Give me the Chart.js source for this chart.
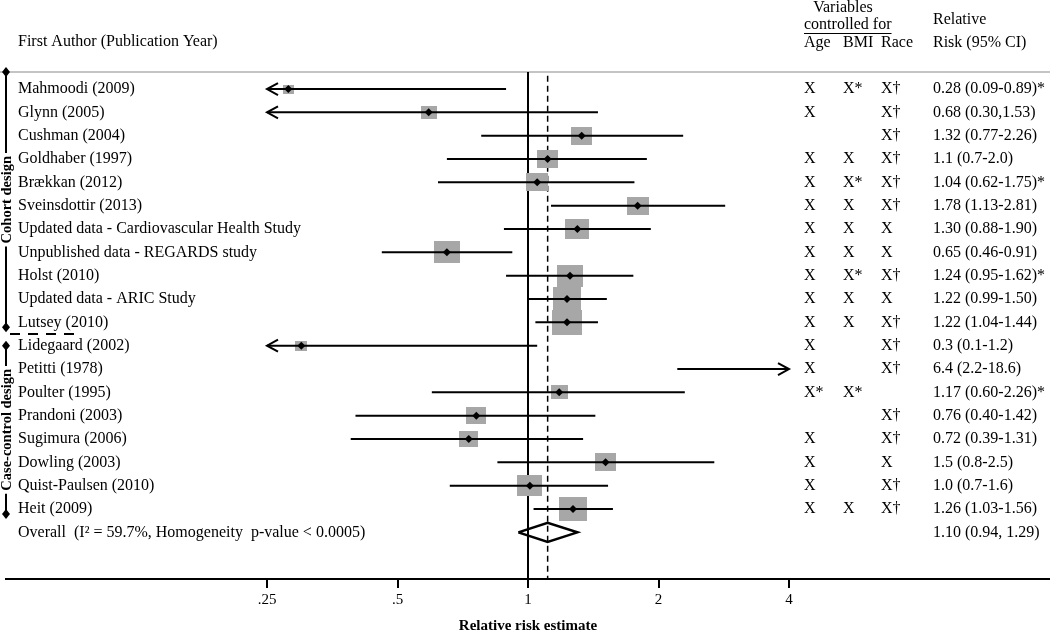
<!DOCTYPE html>
<html>
<head>
<meta charset="utf-8">
<script src="https://cdn.jsdelivr.net/npm/chart.js@4.4.0/dist/chart.umd.min.js"></script>
<style>
html, body { margin: 0; padding: 0; background: #fff; }
</style>
</head>
<body>
<canvas id="forestChart" width="1050" height="630"></canvas>
<script>
// study rows, top to bottom
var studies = ['Mahmoodi (2009)', 'Glynn (2005)', 'Cushman (2004)', 'Goldhaber (1997)', 'Brækkan (2012)',
  'Sveinsdottir (2013)', 'Updated data - Cardiovascular Health Study', 'Unpublished data - REGARDS study',
  'Holst (2010)', 'Updated data - ARIC Study', 'Lutsey (2010)', 'Lidegaard (2002)', 'Petitti (1978)',
  'Poulter (1995)', 'Prandoni (2003)', 'Sugimura (2006)', 'Dowling (2003)', 'Quist-Paulsen (2010)', 'Heit (2009)'];

// values as plotted in the figure
var estimates = [0.28, 0.59, 1.33, 1.11, 1.05, 1.79, 1.30, 0.65, 1.25, 1.23, 1.23, 0.30, 6.4, 1.18, 0.76, 0.73, 1.51, 1.01, 1.27];
var lowerCI   = [0.09, 0.20, 0.78, 0.65, 0.62, 1.13, 0.88, 0.46, 0.89, 1.00, 1.04, 0.10, 2.21, 0.60, 0.40, 0.39, 0.85, 0.66, 1.03];
var upperCI   = [0.89, 1.45, 2.28, 1.88, 1.76, 2.85, 1.92, 0.92, 1.75, 1.52, 1.45, 1.05, 18.6, 2.30, 1.43, 1.34, 2.69, 1.53, 1.57];
var weights   = [1.3, 2.7, 4.6, 4.6, 5.1, 5.1, 6.1, 7.1, 7.1, 8.3, 9.5, 1.5, 0.8, 3.0, 4.2, 3.8, 4.6, 6.6, 8.3];

var ageCol  = ['X', 'X', '', 'X', 'X', 'X', 'X', 'X', 'X', 'X', 'X', 'X', 'X', 'X*', '', 'X', 'X', 'X', 'X'];
var bmiCol  = ['X*', '', '', 'X', 'X*', 'X', 'X', 'X', 'X*', 'X', 'X', '', '', 'X*', '', '', '', '', 'X'];
var raceCol = ['X†', 'X†', 'X†', 'X†', 'X†', 'X†', 'X', 'X', 'X†', 'X', 'X†', 'X†', 'X†', '', 'X†', 'X†', 'X', 'X†', 'X†'];
var rrLabels = ['0.28 (0.09-0.89)*', '0.68 (0.30,1.53)', '1.32 (0.77-2.26)', '1.1 (0.7-2.0)', '1.04 (0.62-1.75)*',
  '1.78 (1.13-2.81)', '1.30 (0.88-1.90)', '0.65 (0.46-0.91)', '1.24 (0.95-1.62)*', '1.22 (0.99-1.50)',
  '1.22 (1.04-1.44)', '0.3 (0.1-1.2)', '6.4 (2.2-18.6)', '1.17 (0.60-2.26)*', '0.76 (0.40-1.42)',
  '0.72 (0.39-1.31)', '1.5 (0.8-2.5)', '1.0 (0.7-1.6)', '1.26 (1.03-1.56)'];

// overall pooled estimate: lower, estimate, upper
var overallCI = [0.95, 1.11, 1.30];
var overallLabel = 'Overall  (I² = 59.7%, Homogeneity  p-value < 0.0005)';
var overallRR = '1.10 (0.94, 1.29)';

var groups = ['Cohort design', 'Case-control design'];
var groupRows = [[0, 10], [11, 18]];

var tickValues = [0.25, 0.5, 1, 2, 4];
var tickLabels = ['.25', '.5', '1', '2', '4'];

var clipLo = 0.25, clipHi = 4;
var overallRow = studies.length;
var serif = '"Liberation Serif", "Times New Roman", serif';

function makeBox(w) {
  var side = 9.75 * Math.sqrt(w);
  var c = document.createElement('canvas');
  c.width = Math.round(side);
  c.height = Math.round(side * 0.84);
  var g = c.getContext('2d');
  g.fillStyle = '#a7a7a7';
  g.fillRect(0, 0, c.width, c.height);
  return c;
}

var boxData = [], boxStyles = [], dotData = [];
for (var i = 0; i < studies.length; i++) {
  if (estimates[i] >= clipLo && estimates[i] <= clipHi) {
    boxData.push({x: estimates[i], y: i});
    boxStyles.push(makeBox(weights[i]));
    dotData.push({x: estimates[i], y: i});
  }
}

var datasets = [];
datasets.push({
  data: [{x: 1, y: -1}, {x: 1, y: 22}],
  showLine: true, borderColor: '#000', borderWidth: 2, pointRadius: 0, order: 6
});
datasets.push({
  data: [{x: overallCI[1], y: -1}, {x: overallCI[1], y: 22}],
  showLine: true, borderColor: '#000', borderWidth: 1.5, borderDash: [6, 4], pointRadius: 0, order: 5
});
datasets.push({
  data: boxData, pointStyle: boxStyles, pointRadius: 10, showLine: false, order: 4
});
for (var j = 0; j < studies.length; j++) {
  datasets.push({
    data: [{x: Math.max(lowerCI[j], clipLo), y: j}, {x: Math.min(upperCI[j], clipHi), y: j}],
    showLine: true, borderColor: '#000', borderWidth: 2, pointRadius: 0, order: 3
  });
}
datasets.push({
  data: dotData, pointStyle: 'rectRot', pointRadius: 4,
  backgroundColor: '#000', borderColor: '#000', borderWidth: 0, showLine: false, order: 1
});
datasets.push({
  data: [
    {x: overallCI[0], y: overallRow}, {x: overallCI[1], y: overallRow - 0.41},
    {x: overallCI[2], y: overallRow}, {x: overallCI[1], y: overallRow + 0.41},
    {x: overallCI[0], y: overallRow}
  ],
  showLine: true, borderColor: '#000', borderWidth: 2.5, borderJoinStyle: 'miter',
  pointRadius: 0, fill: false, order: 1
});

var forestText = {
  id: 'forestText',
  beforeDatasetsDraw: function (chart) {
    var ctx = chart.ctx, area = chart.chartArea;
    ctx.save();
    ctx.strokeStyle = '#c4c4c4';
    ctx.lineWidth = 2;
    ctx.beginPath();
    ctx.moveTo(0, area.top);
    ctx.lineTo(chart.width, area.top);
    ctx.stroke();
    ctx.restore();
  },
  afterDatasetsDraw: function (chart) {
    var ctx = chart.ctx;
    var xs = chart.scales.x, ys = chart.scales.y;
    ctx.save();

    // arrows for intervals running off the plotted range
    ctx.strokeStyle = '#000';
    ctx.lineWidth = 2;
    for (var i = 0; i < studies.length; i++) {
      var y = ys.getPixelForValue(i);
      if (lowerCI[i] < clipLo) {
        var tx = xs.getPixelForValue(clipLo);
        ctx.beginPath();
        ctx.moveTo(tx + 11, y - 6); ctx.lineTo(tx, y); ctx.lineTo(tx + 11, y + 6);
        ctx.stroke();
      }
      if (upperCI[i] > clipHi) {
        var hx = xs.getPixelForValue(clipHi);
        ctx.beginPath();
        ctx.moveTo(hx - 11, y - 6); ctx.lineTo(hx, y); ctx.lineTo(hx - 11, y + 6);
        ctx.stroke();
      }
    }

    // header
    ctx.fillStyle = '#000';
    ctx.textBaseline = 'middle';
    ctx.font = '16px ' + serif;
    ctx.textAlign = 'left';
    ctx.fillText('First Author (Publication Year)', 18, 42);
    ctx.textAlign = 'center';
    ctx.fillText('Variables', 843, 8);
    ctx.textAlign = 'left';
    ctx.fillText('controlled for', 804, 25);
    var cw = ctx.measureText('controlled for').width;
    ctx.lineWidth = 1;
    ctx.beginPath(); ctx.moveTo(804, 33.5); ctx.lineTo(804 + cw, 33.5); ctx.stroke();
    ctx.fillText('Age', 804, 43);
    ctx.fillText('BMI', 843, 43);
    ctx.fillText('Race', 881, 43);
    ctx.fillText('Relative', 933, 20);
    ctx.fillText('Risk (95% CI)', 933, 43);

    // rows
    for (var r = 0; r < studies.length; r++) {
      var ry = ys.getPixelForValue(r);
      ctx.fillText(studies[r], 18, ry);
      ctx.fillText(ageCol[r], 804, ry);
      ctx.fillText(bmiCol[r], 843, ry);
      ctx.fillText(raceCol[r], 881, ry);
      ctx.fillText(rrLabels[r], 933, ry);
    }
    var oy = ys.getPixelForValue(overallRow);
    ctx.fillText(overallLabel, 18, oy);
    ctx.fillText(overallRR, 933, oy);

    // design brackets on the left
    ctx.lineWidth = 2;
    ctx.font = 'bold 14.5px ' + serif;
    for (var g = 0; g < groups.length; g++) {
      var top = g === 0 ? chart.chartArea.top : ys.getPixelForValue(groupRows[g][0]);
      var bot = ys.getPixelForValue(groupRows[g][1]) + 5;
      var mid = (top + bot) / 2;
      var half = ctx.measureText(groups[g]).width / 2 + 3;
      ctx.beginPath();
      ctx.moveTo(6, top); ctx.lineTo(6, mid - half);
      ctx.moveTo(6, mid + half); ctx.lineTo(6, bot);
      ctx.stroke();
      [top, bot].forEach(function (py) {
        ctx.beginPath();
        ctx.moveTo(6, py - 5); ctx.lineTo(10, py); ctx.lineTo(6, py + 5); ctx.lineTo(2, py);
        ctx.closePath(); ctx.fill();
      });
      ctx.save();
      ctx.translate(7, mid);
      ctx.rotate(-Math.PI / 2);
      ctx.textAlign = 'center';
      ctx.fillText(groups[g], 0, 0);
      ctx.restore();
    }
    var sy = ys.getPixelForValue((groupRows[0][1] + groupRows[1][0]) / 2);
    ctx.setLineDash([10, 8]);
    ctx.beginPath(); ctx.moveTo(10, sy); ctx.lineTo(76, sy); ctx.stroke();
    ctx.restore();
  }
};

var chart = new Chart(document.getElementById('forestChart').getContext('2d'), {
  type: 'scatter',
  data: { datasets: datasets },
  options: {
    responsive: false,
    animation: false,
    events: [],
    layout: { autoPadding: false, padding: { top: 72, left: 6, right: 0, bottom: 0 } },
    plugins: { legend: { display: false }, tooltip: { enabled: false } },
    scales: {
      x: {
        type: 'logarithmic',
        position: 'bottom',
        min: 0.0625,
        max: 16,
        afterBuildTicks: function (scale) {
          scale.ticks = tickValues.map(function (v) { return { value: v }; });
        },
        afterFit: function (scale) { scale.height = 51; },
        ticks: {
          autoSkip: false,
          maxRotation: 0,
          padding: 5,
          color: '#000',
          font: { family: serif, size: 15, lineHeight: 1 },
          callback: function (value) { return tickLabels[tickValues.indexOf(value)]; }
        },
        grid: { drawOnChartArea: false, drawTicks: true, tickLength: 9, color: '#000', lineWidth: 2 },
        border: { display: true, color: '#000', width: 2 },
        title: {
          display: true,
          text: 'Relative risk estimate',
          color: '#000',
          font: { family: serif, size: 15, weight: 'bold', lineHeight: 1 },
          padding: { top: 0, bottom: -4 }
        }
      },
      y: {
        type: 'linear',
        display: false,
        reverse: true,
        min: -0.73,
        max: 21
      }
    }
  },
  plugins: [forestText]
});
</script>
</body>
</html>
